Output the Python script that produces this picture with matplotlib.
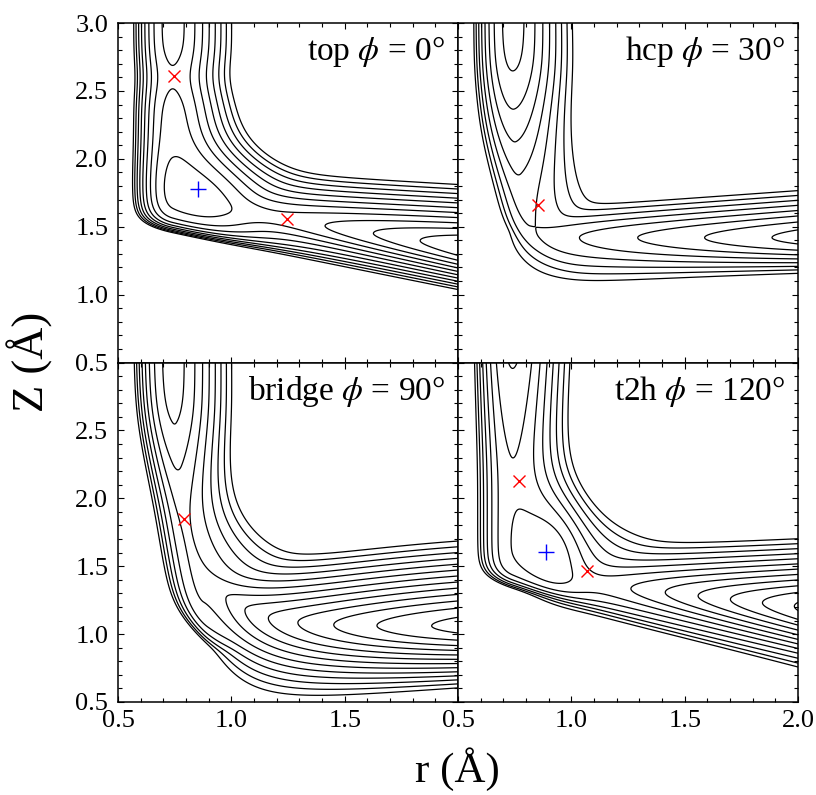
import numpy as np
import matplotlib
matplotlib.use('Agg')
import matplotlib.pyplot as plt
from matplotlib.ticker import MultipleLocator, FixedLocator

plt.rcParams['font.family'] = ['Liberation Serif', 'DejaVu Serif']
plt.rcParams['mathtext.fontset'] = 'stix'

# ---------------- data ----------------
sites = ['top', 'hcp', 'bridge', 't2h']
phis = [0, 30, 90, 120]
levels = [-0.7, -0.6, -0.5, -0.4, -0.3, -0.2, -0.1, 0.0, 0.1, 0.2, 0.3, 0.4, 0.5, 0.6, 0.7]

# saddle points (red x) and minima (blue +)
saddle_r = [[0.747, 1.244], [0.854], [0.793], [0.769, 1.069]]
saddle_z = [[2.61, 1.557], [1.658], [1.85], [2.13, 1.468]]
minimum_r = [[0.851], [], [], [0.888]]
minimum_z = [[1.776], [], [], [1.608]]

x_ticks = [0.5, 1.0, 1.5, 2.0]
y_ticks = [0.5, 1.0, 1.5, 2.0, 2.5, 3.0]

# gas-phase H2 Morse curve
h2_D, h2_a, h2_re = 4.75, 1.94, 0.741

# entrance (molecular) channel, per panel
A_eps = [0.04, 0.04, 0.04, 0.04]
A_slope = [0.0, 0.42, 0.30, 0.167]
A_z1 = [2.6, 2.70, 2.66, 3.20]
A_z2 = [-9.0, 1.72, 1.95, 2.20]
A_bumps = [[(0.055, 2.60, 0.177), (-0.05, 1.80, 0.30)], [], [], []]
A_dmin = [0.5, 0.5, 0.5, 0.5]
A_zd = [2.03, 1.96, 1.86, 1.995]
A_wd = [0.18, 0.30, 0.23, 0.21]
A_shift = [0.0, 0.11, 0.10, 0.0]
A_shift_z = [2.2, 2.2, 2.6, 2.2]
A_shift_w = [0.15, 0.15, 0.20, 0.15]
A_wall_z0 = [1.458, 1.36, 1.165, 1.333]
A_wall_z1 = [-0.34, -1.0, -1.5, -0.5]
A_wall_floor = [-5.0, 1.05, 0.78, -5.0]
A_wall_l = [0.055, 0.08, 0.08, 0.055]

# exit (dissociative) channel, per panel
B_e0 = [-0.07, 0.17, -0.26, 0.03]
B_e1 = [-0.50, -0.34, -0.60, -0.72]
B_e2 = [0.0, 0.0, 0.25, 0.0]
B_rep = [0.2, 0.2, 0.5, 0.2]
B_rep_l = [0.10, 0.12, 0.12, 0.12]
B_z0 = [1.51, 1.42, 1.06, 1.31]
B_z1 = [-0.26, 0.0, 0.0, -0.18]
B_zrise = [0.0, 0.0, 0.33, 0.0]
B_round = [0.12, 0.12, 0.12, 0.12]
B_sup = [3.1, 3.0, 2.4, 2.84]
B_sd0 = [4.6, 2.65, 2.3, 3.5]
B_sd1 = [0.7, 2.51, 2.0, 0.0]
B_sd2 = [0.0, 0.68, 0.0, 0.0]
coupling = [0.1, 0.08, 0.1, 0.1]

# molecular wells: (r0, z0, depth, width_r, width_z)
wells = [[(0.95, 1.74, -0.13, 0.20, 0.33)], [], [], [(0.94, 1.66, -0.18, 0.14, 0.40)]]


def sabs(x, d):
    return np.sqrt(x * x + d * d) - d


def softplus(x):
    return np.logaddexp(0.0, x)


def sigmoid(x):
    return 0.5 * (1.0 + np.tanh(0.5 * x))


def pes(k, r, z):
    u = r - h2_re
    delta = A_shift[k] * A_shift_w[k] * softplus((A_shift_z[k] - z) / A_shift_w[k])
    ml = (1 - np.exp(-h2_a * np.minimum(u - delta, 0.0))) ** 2
    mr = (1 - np.exp(-h2_a * np.maximum(u, 0.0))) ** 2
    ea = (-A_eps[k] + A_slope[k] * 0.1 * (softplus((A_z1[k] - z) / 0.1)
                                          - softplus((A_z2[k] - z) / 0.1)))
    for (h, z0, w) in A_bumps[k]:
        ea = ea + h * np.exp(-((z - z0) / w) ** 2)
    dz = A_dmin[k] + (h2_D - A_dmin[k]) * (1 - sigmoid((A_zd[k] - z) / A_wd[k]))
    zw = A_wall_z0[k] + A_wall_z1[k] * (r - 0.7)
    zw = A_wall_floor[k] + 0.05 * softplus((zw - A_wall_floor[k]) / 0.05)
    wall = np.exp(-(z - zw) / A_wall_l[k])
    va = ea + h2_D * ml + dz * mr + wall
    dr = r - 1.4
    eb = (B_e0[k] + B_e1[k] * dr + B_e2[k] * dr ** 2
          + B_rep[k] * np.exp(-(r - 0.8) / B_rep_l[k]))
    zb = B_z0[k] + B_z1[k] * dr + B_zrise[k] * np.exp(-(r - 0.9) / 0.15)
    x = z - zb
    sdn = np.maximum(B_sd0[k] + B_sd1[k] * dr + B_sd2[k] * dr ** 2, 1.0)
    vb = eb + np.where(x > 0, B_sup[k], sdn) * sabs(x, B_round[k])
    c = coupling[k]
    v = 0.5 * (va + vb) - np.sqrt(0.25 * (va - vb) ** 2 + c * c)
    for (r0, z0, h, wr, wz) in wells[k]:
        v = v + h * np.exp(-((r - r0) / wr) ** 2 - ((z - z0) / wz) ** 2)
    return v


rr = np.linspace(0.5, 2.0, 451)
zz = np.linspace(0.5, 3.0, 626)
R, Z = np.meshgrid(rr, zz)

fig = plt.figure(figsize=(8.16, 7.95), dpi=100)
gs = fig.add_gridspec(2, 2, left=0.1446, right=0.978, top=0.971, bottom=0.117,
                      hspace=0.0, wspace=0.0)

for k in range(4):
    row, col = k // 2, k % 2
    ax = fig.add_subplot(gs[row, col])
    V = pes(k, R, Z)
    ax.contour(R, Z, V, levels=levels, colors='k', linewidths=0.9, linestyles='solid')
    ax.plot(saddle_r[k], saddle_z[k], 'x', color='red', ms=8, mew=1.0, zorder=5)
    if minimum_r[k]:
        ax.plot(minimum_r[k], minimum_z[k], '+', color='blue', ms=11, mew=1.0, zorder=5)
    ax.set_xlim(0.5, 2.0)
    ax.set_ylim(0.5, 3.0)
    ax.xaxis.set_major_locator(FixedLocator(x_ticks))
    ax.yaxis.set_major_locator(FixedLocator(y_ticks))
    ax.xaxis.set_minor_locator(MultipleLocator(0.1))
    ax.yaxis.set_minor_locator(MultipleLocator(0.1))
    ax.tick_params(which='both', direction='in', top=True, right=True, width=0.8)
    ax.tick_params(which='major', length=4.5, labelsize=19)
    ax.tick_params(which='minor', length=2.6)
    ax.tick_params(axis='x', pad=6)
    ax.tick_params(axis='y', pad=7)
    for sp in ax.spines.values():
        sp.set_linewidth(1.1)
    if row == 0:
        ax.set_xticklabels([])
    else:
        ax.set_xticklabels(['0.5', '1.0', '1.5', '' if col == 0 else '2.0'])
    if col == 1:
        ax.set_yticklabels([])
    elif row == 0:
        ax.set_yticklabels(['0.5', '1.0', '1.5', '2.0', '2.5', '3.0'])
    else:
        ax.set_yticklabels(['0.5', '1.0', '1.5', '2.0', '2.5', ''])
    ax.text(0.962, 0.89, f"{sites[k]} $\\phi$ = {phis[k]}\u00b0", transform=ax.transAxes,
            ha='right', va='baseline', fontsize=24)

fig.text(0.037, 0.545, 'Z (\u00c5)', rotation=90, ha='center', va='center', fontsize=32)
fig.text(0.561, 0.016, 'r (\u00c5)', ha='center', va='baseline', fontsize=31)

fig.savefig('out.png', dpi=100)
